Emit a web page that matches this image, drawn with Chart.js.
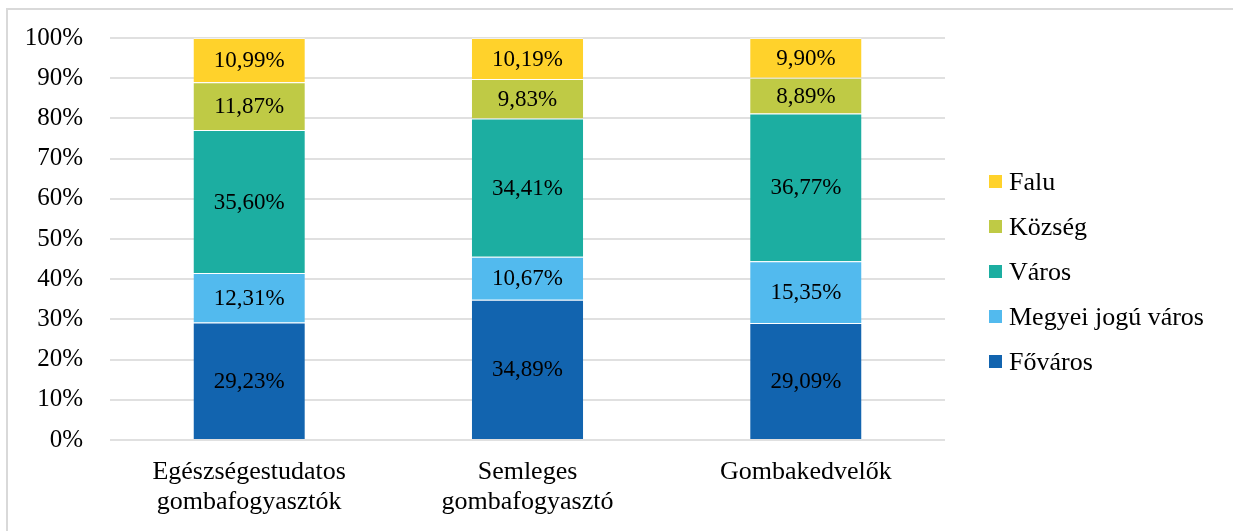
<!DOCTYPE html>
<html>
<head>
<meta charset="utf-8">
<script src="https://cdn.jsdelivr.net/npm/chart.js@4/dist/chart.umd.min.js"></script>
<style>
  html, body { margin: 0; padding: 0; background: #fff; overflow: hidden; }
  canvas { display: block; }
</style>
</head>
<body>
<canvas id="c" width="1233" height="531"></canvas>
<script>
const categories = [
  ['Egészségestudatos', 'gombafogyasztók'],
  ['Semleges', 'gombafogyasztó'],
  ['Gombakedvelők']
];
const seriesNames = ['Főváros', 'Megyei jogú város', 'Város', 'Község', 'Falu'];
const fovaros = [29.23, 34.89, 29.09];
const megyeiJoguVaros = [12.31, 10.67, 15.35];
const varos = [35.60, 34.41, 36.77];
const kozseg = [11.87, 9.83, 8.89];
const falu = [10.99, 10.19, 9.90];
const seriesColors = ['#1264AF', '#52BAEE', '#1CAEA1', '#BFCA45', '#FFD22B'];
const yTicks = [0, 10, 20, 30, 40, 50, 60, 70, 80, 90, 100];

const seriesValues = [fovaros, megyeiJoguVaros, varos, kozseg, falu];
const FONT = "'Liberation Serif', 'Times New Roman', serif";

const fmt = v => v.toFixed(2).replace('.', ',') + '%';

const frame = {
  id: 'frame',
  beforeDraw(chart) {
    const ctx = chart.ctx;
    ctx.save();
    ctx.fillStyle = '#fff';
    ctx.fillRect(0, 0, chart.width, chart.height);
    ctx.strokeStyle = '#d9d9d9';
    ctx.lineWidth = 2;
    ctx.beginPath();
    ctx.moveTo(7, chart.height);
    ctx.lineTo(7, 9);
    ctx.lineTo(chart.width, 9);
    ctx.stroke();
    ctx.restore();
  }
};

const dataLabels = {
  id: 'dataLabels',
  afterDatasetsDraw(chart) {
    const ctx = chart.ctx;
    ctx.save();
    ctx.font = '23px ' + FONT;
    ctx.fillStyle = '#000';
    ctx.textAlign = 'center';
    ctx.textBaseline = 'middle';
    chart.data.datasets.forEach((ds, di) => {
      const meta = chart.getDatasetMeta(di);
      meta.data.forEach((el, i) => {
        const p = el.getProps(['x', 'y', 'base'], true);
        ctx.fillText(fmt(ds.data[i]), p.x, (p.y + p.base) / 2 + 1);
      });
    });
    ctx.restore();
  }
};

const customLegend = {
  id: 'customLegend',
  afterDraw(chart) {
    const ctx = chart.ctx;
    ctx.save();
    ctx.font = '26px ' + FONT;
    ctx.textAlign = 'left';
    ctx.textBaseline = 'middle';
    const n = chart.data.datasets.length;
    for (let k = 0; k < n; k++) {
      const ds = chart.data.datasets[n - 1 - k];
      const cy = 182 + k * 45;
      ctx.fillStyle = ds.backgroundColor;
      ctx.fillRect(989, cy - 7, 13, 13);
      ctx.fillStyle = '#000';
      ctx.fillText(ds.label, 1009, cy + 1);
    }
    ctx.restore();
  }
};

new Chart(document.getElementById('c'), {
  type: 'bar',
  data: {
    labels: categories,
    datasets: seriesNames.map((name, i) => ({
      label: name,
      data: seriesValues[i],
      backgroundColor: seriesColors[i],
      borderColor: 'rgba(255,255,255,0.55)',
      borderWidth: { top: 1, bottom: 0, left: 0, right: 0 },
      borderSkipped: false,
      categoryPercentage: 1.0,
      barPercentage: 0.4
    }))
  },
  options: {
    responsive: false,
    animation: false,
    devicePixelRatio: 1,
    layout: { padding: { left: 0, right: 288, top: 38, bottom: 0 } },
    plugins: {
      legend: { display: false },
      tooltip: { enabled: false }
    },
    scales: {
      x: {
        stacked: true,
        grid: { display: false, drawTicks: false },
        border: { display: false },
        ticks: {
          color: '#000',
          font: { family: FONT, size: 26, lineHeight: 1.15 },
          padding: 17,
          maxRotation: 0,
          autoSkip: false
        },
        afterFit(scale) { scale.height = 91; scale.paddingLeft = 0; scale.paddingRight = 0; }
      },
      y: {
        stacked: true,
        min: 0,
        max: 100,
        afterBuildTicks(scale) { scale.ticks = yTicks.map(v => ({ value: v })); },
        grid: { color: '#e0e0e0', lineWidth: 2, drawTicks: false },
        border: { display: false },
        ticks: {
          color: '#000',
          font: { family: FONT, size: 25 },
          padding: 27,
          callback: v => v + '%'
        },
        afterFit(scale) { scale.width = 110; scale.paddingTop = 0; scale.paddingBottom = 0; }
      }
    }
  },
  plugins: [frame, dataLabels, customLegend]
});
</script>
</body>
</html>
